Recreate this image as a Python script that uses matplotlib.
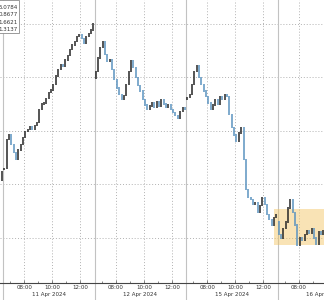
import matplotlib
matplotlib.use('Agg')
import matplotlib.pyplot as plt
import matplotlib.transforms as mtransforms
from matplotlib.patches import Rectangle

# time axis: minutes since 06:30 on the first session, 390 minutes per session
day_labels = ['11 Apr 2024', '12 Apr 2024', '15 Apr 2024', '16 Apr 2024']
hour_ticks = ['08:00', '10:00', '12:00']
hour_offsets = [90, 210, 330]
grid_levels = [16400, 16450, 16500, 16550, 16600]

# last bar of the previous session (open, close)
prev_bar = [16454, 16462]

# 10-minute bars, open of the first bar of each session, then closes
day_open = [16464, 16549, 16529, 16415]
closes_11apr = [16465, 16492, 16496, 16487, 16480, 16473, 16482, 16487, 16494, 16499,
                16501, 16504, 16501, 16505, 16508, 16520, 16525, 16526, 16530, 16536,
                16538, 16543, 16551, 16557, 16562, 16560, 16566, 16570, 16576, 16580,
                16583, 16588, 16590, 16586, 16582, 16588, 16591, 16594, 16600]
closes_12apr = [16555, 16568, 16578, 16583, 16571, 16565, 16566, 16557, 16548, 16540,
                16534, 16529, 16533, 16543, 16555, 16565, 16559, 16550, 16542, 16537,
                16529, 16524, 16520, 16523, 16526, 16522, 16527, 16523, 16529, 16525,
                16522, 16524, 16520, 16517, 16514, 16512, 16518, 16522, 16520]
closes_15apr = [16531, 16534, 16543, 16555, 16561, 16550, 16543, 16537, 16532, 16526,
                16520, 16524, 16529, 16525, 16532, 16529, 16534, 16532, 16515, 16503,
                16496, 16490, 16498, 16503, 16473, 16445, 16438, 16436, 16431, 16433,
                16424, 16430, 16438, 16431, 16422, 16417, 16412, 16419, 16422]
closes_16apr = [16403, 16400, 16409, 16415, 16428, 16436, 16424, 16412, 16393, 16400,
                16398, 16403, 16407, 16404, 16409, 16400, 16394, 16406, 16403, 16407]

legend_lines = ['5.0784', '0.8677', '1.6621', '1.3137']

sessions = [closes_11apr, closes_12apr, closes_15apr, closes_16apr]
t, o, c = [-5], [prev_bar[0]], [prev_bar[1]]
for d, closes in enumerate(sessions):
    last = day_open[d]
    for k, close in enumerate(closes):
        t.append(d * 390 + 5 + 10 * k)
        o.append(last)
        c.append(close)
        last = close

fig = plt.figure(figsize=(3.24, 3.0), dpi=100)
ax = fig.add_axes([0, 17 / 300, 1, 283 / 300])

# grid
ax.set_yticks(grid_levels)
major = [d * 390 + h for d in range(4) for h in hour_offsets]
ax.set_xticks(major)
ax.set_xticklabels(hour_ticks * 4)
ax.set_xticks([d * 390 + h for d in range(4) for h in (30, 150, 270)], minor=True)
ax.set_xlim(-13, 1368)
ax.set_ylim(16358, 16622)
ax.grid(True, color='#b2b2b2', lw=0.7, ls=(0, (1, 2)))
ax.set_axisbelow(True)
ax.tick_params(axis='y', left=False, labelleft=False)
ax.tick_params(axis='x', which='both', direction='in', length=2, width=0.5,
               color='#555555', labelsize=4, pad=1.2, labelcolor='#333333')
ax.tick_params(axis='x', which='minor', length=1.5)

for s in ['top', 'left', 'right']:
    ax.spines[s].set_visible(False)
ax.spines['bottom'].set_color('#444444')
ax.spines['bottom'].set_linewidth(0.8)

# session separators
for d in range(4):
    ax.axvline(d * 390, ymin=-0.07, ymax=1, color='#c2c2c2', lw=0.8, clip_on=False, zorder=1)

# highlighted zone
ax.add_patch(Rectangle((1155, 16393), 300, 34, fc='#f2c35c', ec='none', alpha=0.45, zorder=1.5))

# candles
up_x, up_lo, up_hi, dn_x, dn_lo, dn_hi = [], [], [], [], [], []
for ti, oi, ci in zip(t, o, c):
    lo, hi = min(oi, ci) - 0.6, max(oi, ci) + 0.6
    if ci >= oi:
        up_x.append(ti); up_lo.append(lo); up_hi.append(hi)
    else:
        dn_x.append(ti); dn_lo.append(lo); dn_hi.append(hi)
ax.vlines(up_x, up_lo, up_hi, color='#262626', lw=1.1, zorder=3)
ax.vlines(dn_x, dn_lo, dn_hi, color='#5b93c0', lw=1.1, zorder=3)

# session dates
tr = mtransforms.blended_transform_factory(ax.transData, ax.transAxes)
for d, lab in enumerate(day_labels):
    ax.text(d * 390 + 195, -0.041, lab, transform=tr, ha='center', va='center',
            fontsize=4, color='#333333')

# value box, cut by the left edge
fig.patches.append(Rectangle((-10 / 324, 1 - 33 / 300), 29 / 324, 33 / 300,
                             transform=fig.transFigure, fc='white', ec='#8a8a8a', lw=0.6))
for i, line in enumerate(legend_lines):
    fig.text(17.5 / 324, 1 - (7.5 + 7.3 * i) / 300, line, ha='right', va='center',
             fontsize=4, color='#333333')

fig.savefig('out.png', dpi=100, bbox_inches=None)
